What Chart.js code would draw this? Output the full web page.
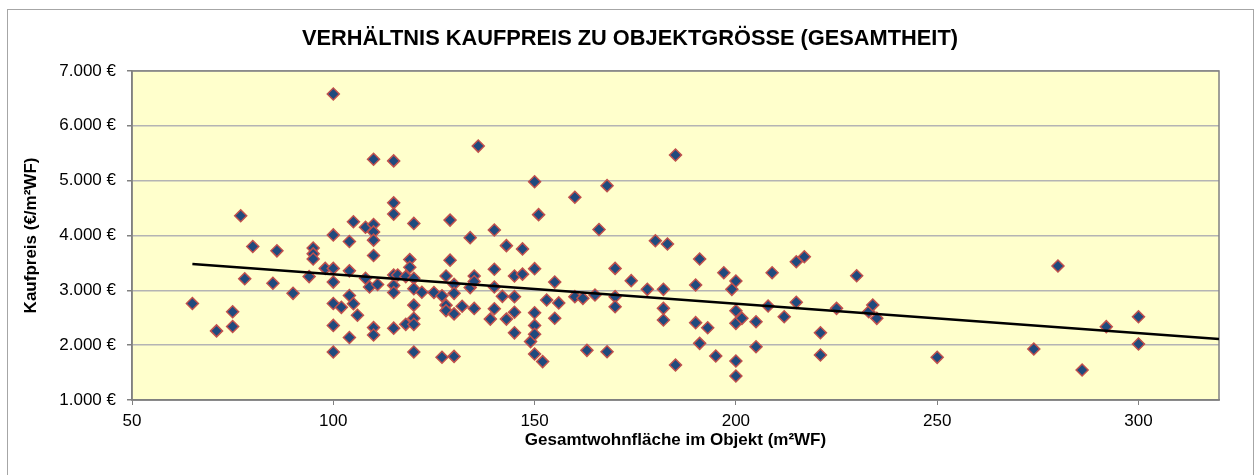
<!DOCTYPE html>
<html>
<head>
<meta charset="utf-8">
<script src="https://cdn.jsdelivr.net/npm/chart.js@4/dist/chart.umd.min.js"></script>
<style>
  body { margin: 0; background: #fff; }
  #frame { position: absolute; left: 7px; top: 9px; width: 1245px; height: 480px; border: 1px solid #a6a6a6; }
  canvas { position: absolute; left: 0; top: 0; }
</style>
</head>
<body>
<div id="frame"></div>
<canvas id="chart" width="1255" height="475"></canvas>
<script>
// Gesamtwohnfläche (m²WF) je Objekt
var flaeche = [
    65, 71, 75, 75, 77, 78, 80, 85, 86, 90, 94, 95, 95, 95, 98,
    100, 100, 100, 100, 100, 100, 100, 102, 104, 104, 104, 104, 105, 105, 106,
    108, 108, 109, 110, 110, 110, 110, 110, 110, 110, 111,
    115, 115, 115, 115, 115, 115, 115, 116, 118, 118, 119, 119,
    120, 120, 120, 120, 120, 120, 120, 122, 125, 127, 127, 128, 128, 128,
    129, 129, 130, 130, 130, 130, 132, 134, 134, 135, 135, 135, 136, 139,
    140, 140, 140, 140, 142, 143, 143, 145, 145, 145, 145, 147, 147, 149,
    150, 150, 150, 150, 150, 150, 151, 152, 153, 155, 155, 156, 160, 160, 162, 163,
    165, 166, 168, 168, 170, 170, 170, 174, 178, 180, 182, 182, 182, 183, 185, 185,
    190, 190, 191, 191, 193, 195, 197, 199, 200, 200, 200, 200, 200, 201.5,
    205, 205, 208, 209, 212, 215, 215, 217, 221, 221, 225, 230, 233, 234, 235,
    250, 274, 280, 286, 292, 300, 300
];
// Kaufpreis (€/m²WF) je Objekt
var preis = [
    2760, 2260, 2610, 2340, 4360, 3210, 3800, 3130, 3720, 2945, 3250, 3770, 3665, 3570, 3400,
    6580, 4010, 3400, 3150, 2760, 2360, 1875, 2690, 3890, 3355, 2905, 2140, 4250, 2755, 2545,
    4150, 3220, 3060, 5390, 4200, 4065, 3915, 3635, 2320, 2185, 3105,
    5360, 4595, 4390, 3280, 3090, 2960, 2310, 3280, 2380, 3250, 3560, 3420,
    4220, 3220, 3030, 2730, 2490, 2380, 1875, 2965, 2960, 2900, 1780, 3260, 2730, 2630,
    4280, 3550, 3110, 2945, 2570, 1795, 2710, 3960, 3050, 3260, 3160, 2670, 5630, 2475,
    4100, 3385, 3060, 2665, 2890, 3815, 2475, 3260, 2885, 2600, 2225, 3755, 3295, 2065,
    4980, 3395, 2590, 2360, 2200, 1838, 4380, 1700, 2823, 3150, 2490, 2770, 4696, 2884, 2854, 1905,
    2914, 4110, 4908, 1881, 3400, 2884, 2701, 3176, 3018, 3905, 3018, 2671, 2458, 3845, 5468, 1638,
    3097, 2410, 3571, 2033, 2318, 1802, 3321, 3018, 3170, 2628, 2398, 1710, 1437, 2489,
    2428, 1972, 2714, 3321, 2519, 3522, 2781, 3613, 2227, 1820, 2671, 3266, 2610, 2732, 2489,
    1778, 1929, 3443, 1546, 2337, 2519, 2020
];

var trendX = [65, 320];
var trendY = [3480, 2112];

var xTicks = [50, 100, 150, 200, 250, 300];
var yTicks = [1000, 2000, 3000, 4000, 5000, 6000, 7000];
var yTickLabels = ['1.000 €', '2.000 €', '3.000 €', '4.000 €', '5.000 €', '6.000 €', '7.000 €'];

var punkte = flaeche.map(function(x, i) { return { x: x, y: preis[i] }; });
var trend = trendX.map(function(x, i) { return { x: x, y: trendY[i] }; });

// Hintergrund und Rahmen der Zeichenfläche
var plotArea = {
    id: 'plotArea',
    beforeDraw: function(chart) {
        var a = chart.chartArea, ctx = chart.ctx;
        ctx.save();
        ctx.fillStyle = '#FFFFCC';
        ctx.fillRect(a.left, a.top, a.right - a.left, a.bottom - a.top);
        ctx.restore();
    },
    beforeDatasetsDraw: function(chart) {
        var a = chart.chartArea, ctx = chart.ctx;
        ctx.save();
        ctx.strokeStyle = '#808080';
        ctx.lineWidth = 1.5;
        ctx.strokeRect(a.left, a.top, a.right - a.left, a.bottom - a.top);
        ctx.restore();
    }
};

var ctx = document.getElementById('chart').getContext('2d');
var chart = new Chart(ctx, {
    type: 'scatter',
    data: {
        datasets: [{
            label: 'Trend',
            type: 'line',
            data: trend,
            borderColor: '#000000',
            borderWidth: 2.5,
            pointRadius: 0,
            fill: false,
            order: 0
        }, {
            label: 'Objekte',
            data: punkte,
            pointStyle: 'rectRot',
            pointRadius: 6,
            pointBackgroundColor: '#1F4A7E',
            pointBorderColor: '#C0504D',
            pointBorderWidth: 1.5,
            order: 1
        }]
    },
    options: {
        responsive: false,
        animation: false,
        layout: { padding: { left: 41, right: 36, top: 0, bottom: 0 } },
        plugins: {
            legend: { display: false },
            tooltip: { enabled: false },
            title: {
                display: true,
                text: 'VERHÄLTNIS KAUFPREIS ZU OBJEKTGRÖSSE (GESAMTHEIT)',
                color: '#000',
                font: { family: 'Liberation Sans, Arial', size: 21.8, weight: 'bold', lineHeight: 1.2 },
                padding: { top: 26, bottom: 18.8 }
            }
        },
        scales: {
            x: {
                type: 'linear',
                min: 50,
                max: 320,
                afterBuildTicks: function(s) {
                    s.ticks = xTicks.map(function(v) { return { value: v }; });
                },
                afterFit: function(s) { s.height = 75; },
                grid: { display: true, drawOnChartArea: false, tickLength: 5, tickColor: '#808080' },
                border: { color: '#808080', width: 1.5 },
                ticks: {
                    color: '#000',
                    padding: 6,
                    maxRotation: 0,
                    font: { family: 'Liberation Sans, Arial', size: 17 }
                },
                title: {
                    display: true,
                    text: 'Gesamtwohnfläche im Objekt (m²WF)',
                    color: '#000',
                    font: { family: 'Liberation Sans, Arial', size: 17, weight: 'bold', lineHeight: 1.2 },
                    padding: { top: 24, bottom: 24 }
                }
            },
            y: {
                type: 'linear',
                min: 1000,
                max: 7000,
                afterBuildTicks: function(s) {
                    s.ticks = yTicks.map(function(v) { return { value: v }; });
                },
                afterFit: function(s) { s.width = 91; },
                grid: { color: '#B4B4B4', lineWidth: 1.5, tickLength: 5, tickColor: '#808080' },
                border: { color: '#808080', width: 1.5 },
                ticks: {
                    color: '#000',
                    padding: 11,
                    font: { family: 'Liberation Sans, Arial', size: 17 },
                    callback: function(value) { return yTickLabels[yTicks.indexOf(value)]; }
                },
                title: {
                    display: true,
                    text: 'Kaufpreis (€/m²WF)',
                    color: '#000',
                    font: { family: 'Liberation Sans, Arial', size: 17, weight: 'bold', lineHeight: 1.2 },
                    padding: { top: -20.2, bottom: 0 }
                }
            }
        }
    },
    plugins: [plotArea]
});
</script>
</body>
</html>
